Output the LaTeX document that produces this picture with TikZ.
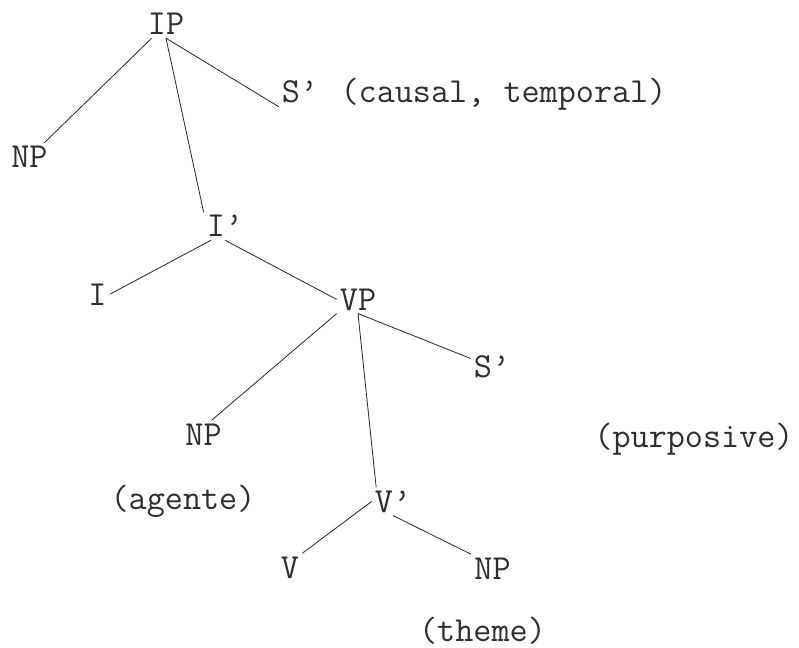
\documentclass[tikz,border=0pt]{standalone}
\usepackage{fontspec}
\newcommand\TreeUnit{0.025cm}
\definecolor{typeink}{gray}{0.18}
\tikzset{
  cat/.style={
    font = \ttfamily\fontsize{25}{29}\selectfont,
    text = typeink,
    anchor = base,
    inner sep = 2.1pt
  },
  note/.style={
    cat
  },
  branch/.style={
    draw = typeink,
    line width = 0.6pt
  },
}

\begin{document}
\begin{tikzpicture}[x=\TreeUnit,y=-\TreeUnit]
         \useasboundingbox (0,0) rectangle (799,648);

         % categories
         \node[cat] (ip)  at (166,35)    {IP};
         \node[cat] (np1) at (29.5,168)  {NP};
         \node[cat] (s1)  at (300,103)   {S’};
         \node[cat] (i1)  at (225,237)   {I’};
         \node[cat] (i2)  at (97.5,305)  {I};
         \node[cat] (vp)  at (358,310)   {VP};
         \node[cat] (s2)  at (492,377)   {S’};
         \node[cat] (np2) at (203.5,445) {NP};
         \node[cat] (v1)  at (393,512)   {V’};
         \node[cat] (v2)  at (290,578)   {V};
         \node[cat] (np3) at (492.5,579) {NP};

         % thematic notes
         \node[note] (causal) at (503.5,103) {(causal, temporal)};
         \node[note] (purp)   at (694,447)   {(purposive)};
         \node[note] (agent)  at (183,509)   {(agente)};
         \node[note] (theme)  at (482.5,641) {(theme)};

         % branches
         \draw[branch] (ip) -- (np1);
         \draw[branch] (ip.south) -- (s1.south west);
         \draw[branch] (ip.south) -- (i1.north west);
         \draw[branch] (i1.225) -- (i2.east);
         \draw[branch] (i1.south) -- (vp.west);
         \draw[branch] (vp.south west) -- (np2.60);
         \draw[branch] (vp.south) -- (s2.160);
         \draw[branch] (vp.south) -- (v1.140);
         \draw[branch] (v1.west) -- (v2.north east);
         \draw[branch] (v1.south) -- (np3.north west);

\end{tikzpicture}
\end{document}
